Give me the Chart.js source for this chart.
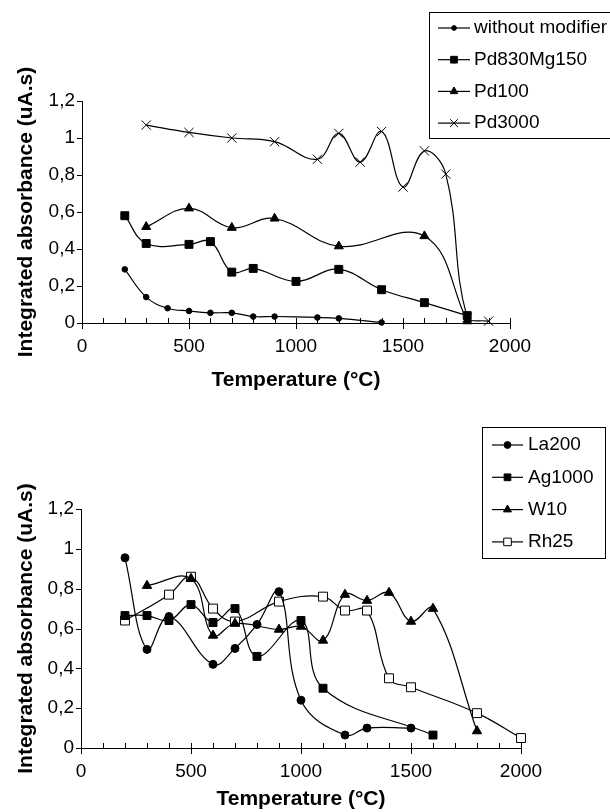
<!DOCTYPE html>
<html>
<head>
<meta charset="utf-8">
<script src="https://cdn.jsdelivr.net/npm/chart.js@4.4.1/dist/chart.umd.min.js"></script>
<style>
  html, body { margin: 0; padding: 0; background: #fff; }
  .panel { position: relative; width: 610px; height: 406px; }
</style>
</head>
<body>
<div class="panel"><canvas id="topChart"></canvas></div>
<div class="panel"><canvas id="bottomChart"></canvas></div>
<script>
// top panel: Pd based modifiers
const tempNoMod = [200, 300, 400, 500, 600, 700, 800, 900, 1100, 1200, 1400];
const absNoMod = [0.29, 0.14, 0.08, 0.065, 0.055, 0.055, 0.035, 0.035, 0.03, 0.025, 0.003];
const tempPdMg = [200, 300, 500, 600, 700, 800, 1000, 1200, 1400, 1600, 1800];
const absPdMg = [0.58, 0.43, 0.425, 0.44, 0.275, 0.295, 0.225, 0.29, 0.18, 0.11, 0.04];
const tempPd100 = [300, 500, 700, 900, 1200, 1600, 1800];
const absPd100 = [0.52, 0.62, 0.515, 0.565, 0.415, 0.47, 0.01];
const tempPd3000 = [300, 500, 700, 900, 1100, 1200, 1300, 1400, 1500, 1600, 1700, 1800, 1900];
const absPd3000 = [1.07, 1.03, 1.0, 0.98, 0.885, 1.025, 0.87, 1.035, 0.735, 0.93, 0.805, 0.03, 0.01];

// bottom panel: other modifiers
const tempLa = [200, 300, 400, 600, 700, 800, 900, 1000, 1200, 1300, 1500];
const absLa = [0.955, 0.495, 0.66, 0.42, 0.5, 0.62, 0.785, 0.24, 0.065, 0.1, 0.1];
const tempAg = [200, 300, 400, 500, 600, 700, 800, 1000, 1100, 1600];
const absAg = [0.665, 0.665, 0.64, 0.72, 0.63, 0.70, 0.46, 0.64, 0.30, 0.065];
const tempW = [300, 500, 600, 700, 900, 1000, 1100, 1200, 1300, 1400, 1500, 1600, 1800];
const absW = [0.815, 0.85, 0.565, 0.625, 0.595, 0.61, 0.54, 0.77, 0.74, 0.78, 0.635, 0.70, 0.085];
const tempRh = [200, 400, 500, 600, 700, 900, 1100, 1200, 1300, 1400, 1500, 1800, 2000];
const absRh = [0.64, 0.77, 0.86, 0.70, 0.635, 0.735, 0.76, 0.69, 0.69, 0.35, 0.305, 0.175, 0.05];

const yTicks = [0, 0.2, 0.4, 0.6, 0.8, 1, 1.2];
const xMajor = [0, 500, 1000, 1500, 2000];

const FONT = '"Liberation Sans", Arial, Helvetica, sans-serif';

function pts(xs, ys) {
    return xs.map((x, i) => ({ x: x, y: ys[i] }));
}

function series(label, xs, ys, style, radius, fill) {
    return {
        label: label,
        data: pts(xs, ys),
        borderColor: '#000',
        borderWidth: 1.2,
        tension: 0.4,
        pointStyle: style,
        pointRadius: radius,
        pointHoverRadius: radius,
        pointBackgroundColor: fill || '#000',
        pointBorderColor: '#000',
        pointBorderWidth: 1,
        clip: false
    };
}

// minor / major tick marks, like the spreadsheet axes
const tickPlugin = {
    id: 'axisTicks',
    afterDraw(chart) {
        const ctx = chart.ctx;
        const area = chart.chartArea;
        const xs = chart.scales.x, ys = chart.scales.y;
        ctx.save();
        ctx.strokeStyle = '#000';
        ctx.lineWidth = 1;
        ctx.beginPath();
        for (let v = 0; v <= 2000; v += 100) {
            const px = Math.round(xs.getPixelForValue(v)) + 0.5;
            ctx.moveTo(px, area.bottom - 5);
            ctx.lineTo(px, xMajor.includes(v) ? area.bottom + 6 : area.bottom);
        }
        yTicks.forEach(v => {
            const py = Math.round(ys.getPixelForValue(v)) + 0.5;
            ctx.moveTo(area.left - 5, py);
            ctx.lineTo(area.left, py);
        });
        ctx.stroke();
        ctx.restore();
    }
};

const legendPlugin = {
    id: 'boxLegend',
    afterDraw(chart, args, o) {
        const ctx = chart.ctx;
        ctx.save();
        ctx.strokeStyle = '#000';
        ctx.lineWidth = 1;
        ctx.strokeRect(o.x + 0.5, o.y + 0.5, o.w, o.h);
        ctx.font = '19px ' + FONT;
        ctx.textBaseline = 'middle';
        chart.data.datasets.forEach((ds, i) => {
            const y = o.rowY + i * o.rowGap;
            ctx.strokeStyle = '#000';
            ctx.lineWidth = 1.2;
            ctx.beginPath();
            ctx.moveTo(o.lineX1, y);
            ctx.lineTo(o.lineX2, y);
            ctx.stroke();
            ctx.fillStyle = ds.pointBackgroundColor;
            ctx.lineWidth = 1;
            Chart.helpers.drawPoint(ctx, {
                pointStyle: ds.pointStyle,
                radius: ds.pointRadius * 0.85,
                borderWidth: 1,
                rotation: 0
            }, (o.lineX1 + o.lineX2) / 2, y);
            ctx.fillStyle = '#000';
            ctx.fillText(ds.label, o.textX, y);
        });
        ctx.restore();
    }
};

function makeOptions(pad, yWidth, xHeight, titleBottom, legend) {
    return {
        responsive: true,
        maintainAspectRatio: false,
        animation: false,
        layout: { padding: pad },
        plugins: {
            legend: { display: false },
            tooltip: { enabled: false },
            boxLegend: legend
        },
        scales: {
            x: {
                type: 'linear',
                min: 0,
                max: 2000,
                afterFit: s => { s.height = xHeight; },
                grid: { display: false, drawTicks: false },
                border: { display: true, color: '#000', width: 1 },
                ticks: {
                    stepSize: 500,
                    padding: 12,
                    color: '#000',
                    font: { family: FONT, size: 19 },
                    maxRotation: 0,
                    callback: v => String(v)
                },
                title: {
                    display: true,
                    text: 'Temperature (°C)',
                    color: '#000',
                    font: { family: FONT, size: 21, weight: 'bold' },
                    padding: { top: 0, bottom: titleBottom }
                }
            },
            y: {
                min: 0,
                max: 1.2,
                afterFit: s => { s.width = yWidth; },
                afterBuildTicks: s => { s.ticks = yTicks.map(v => ({ value: v })); },
                grid: { display: false, drawTicks: false },
                border: { display: true, color: '#000', width: 1 },
                ticks: {
                    padding: 7,
                    color: '#000',
                    font: { family: FONT, size: 19 },
                    callback: v => String(Math.round(v * 10) / 10).replace('.', ',')
                },
                title: {
                    display: true,
                    text: 'Integrated absorbance (uA.s)',
                    color: '#000',
                    font: { family: FONT, size: 21, weight: 'bold' },
                    padding: { top: 14, bottom: 0 }
                }
            }
        }
    };
}

new Chart(document.getElementById('topChart'), {
    type: 'line',
    data: {
        datasets: [
            series('without modifier', tempNoMod, absNoMod, 'circle', 2.8),
            series('Pd830Mg150', tempPdMg, absPdMg, 'rect', 5.6),
            series('Pd100', tempPd100, absPd100, 'triangle', 5.2),
            series('Pd3000', tempPd3000, absPd3000, 'crossRot', 6.5)
        ]
    },
    options: makeOptions({ left: 0, right: 100, top: 101, bottom: 0 }, 82, 83, 13, {
        x: 429, y: 12, w: 200, h: 126,
        rowY: 28, rowGap: 31.7, lineX1: 438, lineX2: 470, textX: 474
    }),
    plugins: [tickPlugin, legendPlugin]
});

new Chart(document.getElementById('bottomChart'), {
    type: 'line',
    data: {
        datasets: [
            series('La200', tempLa, absLa, 'circle', 4),
            series('Ag1000', tempAg, absAg, 'rect', 5.6),
            series('W10', tempW, absW, 'triangle', 5.4),
            series('Rh25', tempRh, absRh, 'rect', 6.3, '#fff')
        ]
    },
    options: makeOptions({ left: 0, right: 89, top: 103, bottom: 0 }, 81, 64, 0, {
        x: 482, y: 21, w: 123, h: 131,
        rowY: 39, rowGap: 32.3, lineX1: 492, lineX2: 523, textX: 528
    }),
    plugins: [tickPlugin, legendPlugin]
});
</script>
</body>
</html>
